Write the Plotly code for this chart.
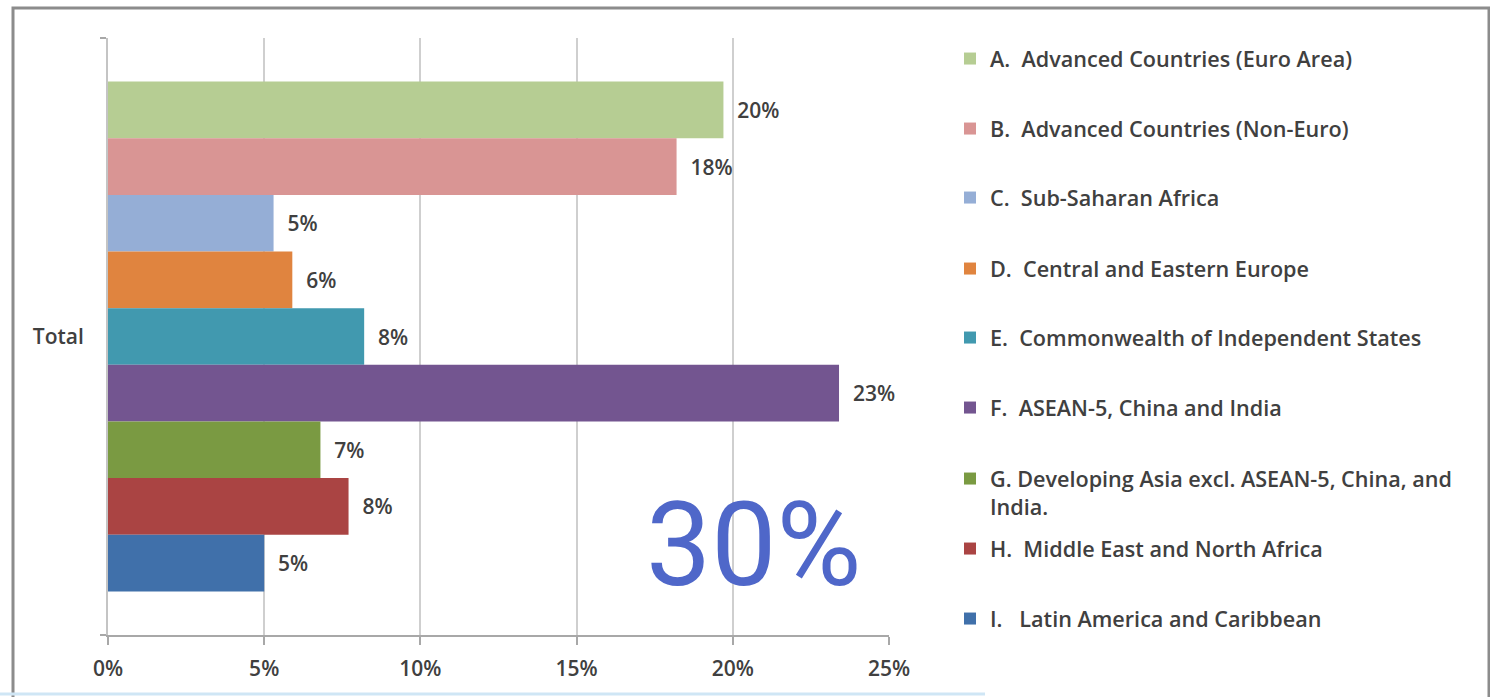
import plotly.graph_objects as go

# Regional shares of the total, one bar per region
regions = [
    "A.  Advanced Countries (Euro Area)",
    "B.  Advanced Countries (Non-Euro)",
    "C.  Sub-Saharan Africa",
    "D.  Central and Eastern Europe",
    "E.  Commonwealth of Independent States",
    "F.  ASEAN-5, China and India",
    "G. Developing Asia excl. ASEAN-5, China, and<br>India.",
    "H.  Middle East and North Africa",
    "I.   Latin America and Caribbean",
]
shares = [0.197, 0.182, 0.053, 0.059, 0.082, 0.234, 0.068, 0.077, 0.050]
category = ["Total"]
x_ticks = [0, 0.05, 0.10, 0.15, 0.20, 0.25]
x_tick_labels = ["0%", "5%", "10%", "15%", "20%", "25%"]
colors = ["#B6CD93", "#D99594", "#95AED6", "#E0843F", "#4199AF",
          "#735590", "#7A9A42", "#AA4443", "#4070AA"]
highlight = "30%"

# Plot-area geometry in pixels
W, H = 1490, 697
L, R, T, B = 108, 889, 38, 635
pw, ph = R - L, B - T


def px_x(px):
    return (px - L) / pw


def px_y(py):
    return (B - py) / ph


legend_rows = [59, 129, 198, 269, 338, 408, 493, 549, 619]
FONT = "'Open Sans', Lato, sans-serif"
TXT = "#404040"

fig = go.Figure()
layout_legends = {}
for i, (name, val, col) in enumerate(zip(regions, shares, colors)):
    key = "legend" if i == 0 else f"legend{i + 1}"
    fig.add_trace(go.Bar(
        y=category, x=[val], name=name, orientation="h",
        marker=dict(color=col, line=dict(width=0)),
        texttemplate="\u00a0\u00a0%{x:.0%}", textposition="outside",
        cliponaxis=False,
        textfont=dict(family=FONT, size=21, color=TXT, weight=600),
        legend=key, showlegend=True,
    ))
    layout_legends[key] = dict(
        x=px_x(950), y=px_y(legend_rows[i]), xanchor="left", yanchor="middle",
        bgcolor="rgba(0,0,0,0)", borderwidth=0,
        font=dict(family=FONT, size=21.6, color=TXT, weight=600),
        valign="top", itemsizing="constant",
    )

fig.update_layout(
    width=W, height=H,
    margin=dict(l=L, r=W - R, t=T, b=H - B, pad=0),
    paper_bgcolor="white", plot_bgcolor="white",
    barmode="group", bargap=0.146, bargroupgap=0,
    **layout_legends,
)

fig.update_xaxes(
    range=[0, 0.25], tickvals=x_ticks, ticktext=x_tick_labels,
    showgrid=True, gridcolor="#cfcfcf", gridwidth=2,
    showline=True, linecolor="#a8a8a8", linewidth=2,
    ticks="outside", ticklen=8, tickcolor="#a8a8a8", tickwidth=2,
    tickfont=dict(family=FONT, size=21, color=TXT, weight=600),
    ticklabelstandoff=6,
    zeroline=False, fixedrange=True,
)
fig.update_yaxes(
    autorange="reversed", tickson="boundaries",
    ticks="outside", ticklen=6, tickcolor="#a8a8a8", tickwidth=2,
    showline=True, linecolor="#c4c4c4", linewidth=2, showgrid=False,
    tickfont=dict(family=FONT, size=21, color=TXT, weight=600),
    ticklabelstandoff=18, fixedrange=True,
)

# Outer frame around the chart
fig.add_shape(type="rect", xref="paper", yref="paper",
              x0=px_x(13), x1=px_x(1489), y0=px_y(H + 5), y1=px_y(8),
              line=dict(color="#8c8c8c", width=3), layer="below")
# Thin strip along the bottom edge
fig.add_shape(type="line", xref="paper", yref="paper",
              x0=px_x(0), x1=px_x(985), y0=px_y(694), y1=px_y(694),
              line=dict(color="#cfe6f5", width=3))

# Large highlighted figure
fig.add_annotation(
    text=highlight, xref="paper", yref="paper",
    x=px_x(753), y=px_y(545), xanchor="center", yanchor="middle",
    showarrow=False,
    font=dict(family="Roboto, 'Liberation Sans', sans-serif",
              size=116, color="#4F67C9"),
)

fig.write_html("out.html")
